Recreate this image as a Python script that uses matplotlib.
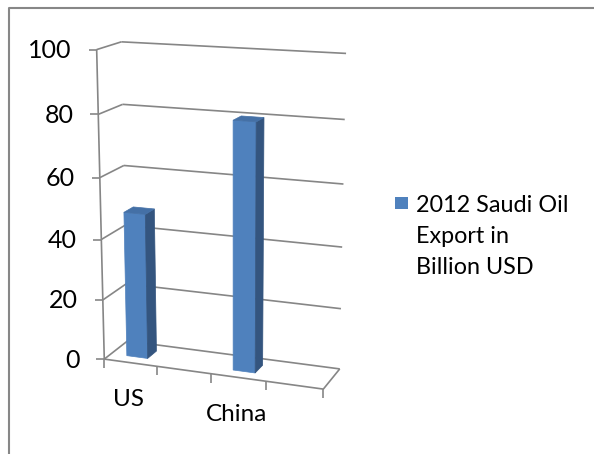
import numpy as np
import matplotlib.pyplot as plt
from matplotlib.patches import Polygon, Rectangle

# data
categories = ['US', '', 'China', '']
values = [48, np.nan, 80, np.nan]
value_ticks = [0, 20, 40, 60, 80, 100]
series_name = '2012 Saudi Oil\nExport in\nBillion USD'

plt.rcParams['font.family'] = ['Lato', 'DejaVu Sans']

W, H = 594, 454
fig = plt.figure(figsize=(W / 100, H / 100), dpi=100)
ax = fig.add_axes([0, 0, 1, 1])
ax.set_xlim(0, W)
ax.set_ylim(H, 0)
ax.axis('off')

# perspective camera for the 3d box, fitted from the plot frame corners
# (u = category axis 0..1, v = value axis 0..1, w = depth 0 front .. 1 back)
calib = [
    ((0, 0, 0), (104, 359)), ((0, .2, 0), (102.7, 299.3)), ((0, .4, 0), (101.2, 239.3)),
    ((0, .6, 0), (99.8, 178.3)), ((0, .8, 0), (98.4, 114.3)), ((0, 1, 0), (97, 49.3)),
    ((0, 0, 1), (127, 341)), ((0, .6, 1), (124, 166)), ((0, .8, 1), (123, 104)), ((0, 1, 1), (121, 42)),
    ((1, 0, 1), (340, 368)), ((1, .2, 1), (341.7, 309.3)), ((1, .4, 1), (342.3, 247)),
    ((1, .6, 1), (343.3, 184.3)), ((1, .8, 1), (343.3, 120)), ((1, 1, 1), (346.7, 52.7)),
    ((.25, 0, 0), (157, 366.5)), ((.5, 0, 0), (211, 374)), ((.75, 0, 0), (266, 381.5)),
    ((1, 0, 0), (323, 389)),
]
rows = []
for (u, v, w), (x, y) in calib:
    X = [u, v, w, 1]
    rows.append(X + [0, 0, 0, 0] + [-x * c for c in X])
    rows.append([0, 0, 0, 0] + X + [-y * c for c in X])
_, _, vt = np.linalg.svd(np.array(rows, float))
M = vt[-1].reshape(3, 4)


def P(u, v, w):
    p = M @ np.array([u, v, w, 1.0])
    return p[0] / p[2], p[1] / p[2]


vmax = value_ticks[-1]
n = len(categories)
grid_kw = dict(color='#868686', lw=1.2, solid_capstyle='butt', zorder=1)
txt_c = '#000000'

# back wall and side wall gridlines
for t in value_ticks:
    v = t / vmax
    a, b = P(0, v, 1), P(1, v, 1)
    ax.plot([a[0], b[0]], [a[1], b[1]], **grid_kw)
    c = P(0, v, 0)
    ax.plot([c[0], a[0]], [c[1], a[1]], **grid_kw)
    ax.plot([c[0] - 8, c[0]], [c[1], c[1]], **grid_kw)
    ax.text(c[0] - 25, c[1] + 1, str(t), ha='right', va='center', fontsize=18, color=txt_c)

# value axis and floor
p0, p1 = P(0, 0, 0), P(0, 1, 0)
ax.plot([p0[0], p1[0]], [p0[1], p1[1]], **grid_kw)
f = [P(0, 0, 0), P(1, 0, 0), P(1, 0, 1)]
ax.plot([q[0] for q in f], [q[1] for q in f], **grid_kw)
for k in range(n + 1):
    q = P(k / n, 0, 0)
    ax.plot([q[0], q[0]], [q[1], q[1] + 9], **grid_kw)

# category labels (every other one, as excel skips them)
for i, name in enumerate(categories):
    if name:
        q = P((i + 0.5) / n, 0, 0)
        ax.text(q[0] - 2, q[1] + 37, name, ha='center', va='center', fontsize=17.5, color=txt_c)

# bars
front_c, side_c, top_c = '#4F81BD', '#34557F', '#4470A6'
bw = 0.4 / n
w0, w1 = 0.3, 0.7
for i, val in enumerate(values):
    if np.isnan(val):
        continue
    uc = (i + 0.5) / n
    u0, u1 = uc - bw / 2, uc + bw / 2
    v = val / vmax
    faces = [
        ([(u0, 0, w0), (u1, 0, w0), (u1, v, w0), (u0, v, w0)], front_c),
        ([(u1, 0, w0), (u1, 0, w1), (u1, v, w1), (u1, v, w0)], side_c),
        ([(u0, v, w0), (u1, v, w0), (u1, v, w1), (u0, v, w1)], top_c),
    ]
    for pts, col in faces:
        ax.add_patch(Polygon([P(*p) for p in pts], closed=True, facecolor=col,
                             edgecolor=col, lw=0.5, zorder=3))

# legend
ax.add_patch(Rectangle((395, 197), 13, 12, facecolor=front_c, edgecolor='none', zorder=3))
for j, line in enumerate(series_name.split('\n')):
    ax.text(416, 212 + 31 * j, line, ha='left', va='baseline', fontsize=16.8, color=txt_c)

# chart frame
ax.plot([9, 9, W + 5], [H + 5, 8, 8], color='#878787', lw=1.5, zorder=0)

fig.savefig('out.png', dpi=100)
